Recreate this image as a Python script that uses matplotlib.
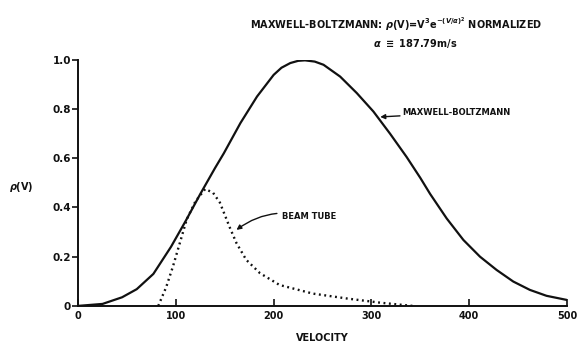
"""Maxwell-Boltzmann vs beam tube velocity distribution."""
import matplotlib
matplotlib.use("Agg")
import matplotlib.pyplot as plt

INK = "#111111"

# Maxwell-Boltzmann curve (normalized)
mb_v = [0, 25, 45, 60, 77, 95, 110, 125, 140, 149, 166, 183, 200, 208, 217,
        225, 232, 242, 251, 268, 285, 302, 319, 336, 350, 360, 377, 394, 411,
        428, 445, 462, 479, 500]
mb_rho = [0, 0.008, 0.035, 0.068, 0.13, 0.24, 0.345, 0.455, 0.56, 0.62, 0.743,
          0.851, 0.939, 0.968, 0.987, 0.996, 0.998, 0.993, 0.98, 0.932, 0.865,
          0.79, 0.70, 0.605, 0.52, 0.455, 0.355, 0.268, 0.2, 0.146, 0.099,
          0.065, 0.041, 0.024]

# Beam tube curve
bt_v = [82, 90, 97, 104, 111, 120, 130, 138, 145, 150, 155, 162, 172, 186,
        206, 240, 275, 309, 342]
bt_rho = [0, 0.075, 0.16, 0.255, 0.35, 0.425, 0.475, 0.46, 0.42, 0.37, 0.32,
          0.255, 0.187, 0.133, 0.085, 0.05, 0.03, 0.013, 0]

x_ticks = [0, 100, 200, 300, 400, 500]
y_ticks = [0, 0.2, 0.4, 0.6, 0.8, 1.0]
y_ticklabels = ["0", "0.2", "0.4", "0.6", "0.8", "1.0"]

plt.rcParams["font.family"] = "DejaVu Sans"
plt.rcParams["font.weight"] = "bold"

fig = plt.figure(figsize=(5.87, 3.48), dpi=100)
ax = fig.add_axes([0.133, 0.121, 0.833, 0.707])

ax.plot(mb_v, mb_rho, color=INK, lw=1.6, solid_joinstyle="round")
ax.plot(bt_v, bt_rho, color=INK, lw=1.7, linestyle=(0, (0.8, 1.5)))

ax.set_xlim(0, 500)
ax.set_ylim(0, 1.0)
ax.set_xticks(x_ticks)
ax.set_yticks(y_ticks)
ax.set_yticklabels(y_ticklabels)
ax.tick_params(axis="x", direction="in", length=5, width=1.2, labelsize=7,
               colors=INK, pad=4)
ax.tick_params(axis="y", direction="out", length=4, width=1.2, labelsize=7.5,
               colors=INK, pad=1)
for lab in ax.get_xticklabels() + ax.get_yticklabels():
    lab.set_fontweight("bold")
ax.spines[["top", "right"]].set_visible(False)
for s in ("left", "bottom"):
    ax.spines[s].set_linewidth(1.4)
    ax.spines[s].set_color(INK)

ax.set_xlabel("VELOCITY", fontsize=7, fontweight="bold", color=INK, labelpad=8)
fig.text(0.015, 0.463, r"$\rho$(V)", fontsize=7, fontweight="bold",
         color=INK, va="center")

ax.annotate("MAXWELL-BOLTZMANN", xy=(309, 0.768), xytext=(332, 0.785),
            fontsize=6, fontweight="bold", color=INK, va="center",
            arrowprops=dict(arrowstyle="-|>", color=INK, lw=1.0,
                            mutation_scale=7, shrinkA=0, shrinkB=0))
ax.annotate("BEAM TUBE", xy=(162, 0.309), xytext=(209, 0.362),
            fontsize=6, fontweight="bold", color=INK, va="center",
            arrowprops=dict(arrowstyle="-|>", color=INK, lw=1.0,
                            mutation_scale=7, shrinkA=2, shrinkB=0,
                            connectionstyle="arc3,rad=0.25"))

fig.text(0.426, 0.93,
         r"MAXWELL-BOLTZMANN: $\rho$(V)=V$^3$e$^{-(V/\alpha)^2}$ NORMALIZED",
         fontsize=7, fontweight="bold", color=INK, va="center")
fig.text(0.636, 0.876, r"$\alpha$ $\equiv$ 187.79m/s", fontsize=7,
         fontweight="bold", color=INK, va="center")

fig.savefig("out.png", dpi=100, facecolor="white")
